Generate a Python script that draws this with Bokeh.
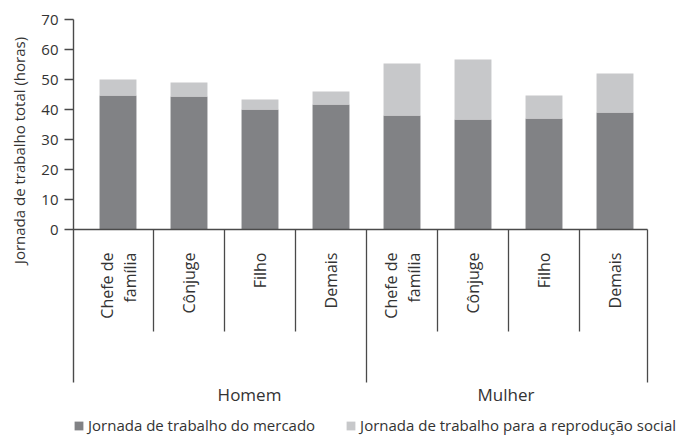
from math import pi
from bokeh.plotting import figure
from bokeh.layouts import row
from bokeh.models import Range1d, FixedTicker, Legend, LegendItem, ColumnDataSource
from bokeh.core.properties import value
from bokeh.embed import file_html
from bokeh.resources import INLINE

# ---------------- data ----------------
categories = ["Chefe de\nfamília", "Cônjuge", "Filho", "Demais",
              "Chefe de\nfamília", "Cônjuge", "Filho", "Demais"]
groups = ["Homem", "Mulher"]
mercado = [44.7, 44.3, 40.0, 41.7, 38.0, 36.7, 37.0, 39.0]
reproducao = [5.3, 4.7, 3.3, 4.3, 17.3, 20.0, 7.7, 13.0]
y_ticks = [0, 10, 20, 30, 40, 50, 60, 70]
series_names = ["Jornada de trabalho do mercado",
                "Jornada de trabalho para a reprodução social"]
y_title = "Jornada de trabalho total (horas)"

# ---------------- layout ----------------
W, H = 690, 435
WT = 32             # width of the strip that holds the y title
LEFT, TOP = 73, 19  # frame left / top on the page
PX_Y = 3.0          # pixels per hour
PX_CAT = 71.0       # pixels per category
FIRST_C = 44.5      # first category centre from frame left
LINE_GAP = 23       # px between the two lines of a category label
FONT = "Open Sans"
DARK, LIGHT = "#818285", "#c7c8ca"
LINE = "#4a4a4a"
TXT = "#333333"

frame_w, frame_h = W - LEFT, H - TOP
y_end = y_ticks[-1]
y_start = y_end - frame_h / PX_Y
x_start = -FIRST_C / PX_CAT
x_end = x_start + frame_w / PX_CAT


def yd(cy):
    return y_end - (cy - TOP) / PX_Y


def xd(cx):
    return (cx - LEFT - FIRST_C) / PX_CAT


# ---------------- y title strip ----------------
t = figure(width=WT, height=H, x_range=Range1d(0, WT), y_range=Range1d(0, H),
           output_backend="svg", toolbar_location=None, x_axis_location=None,
           y_axis_location=None, title=None, min_border=0, outline_line_color=None)
t.grid.visible = False
t.text(x=[18.5], y=[H - 137], text=[y_title], angle=pi / 2, text_align="center",
       text_baseline="middle", text_font=value(FONT), text_font_size="15px", text_color=TXT)

# ---------------- main chart ----------------
n = len(categories)
xs = list(range(n))
src = ColumnDataSource(dict(x=xs, mercado=mercado, reproducao=reproducao))

p = figure(width=W - WT, height=H, x_range=Range1d(x_start, x_end), y_range=Range1d(y_start, y_end),
           output_backend="svg", toolbar_location=None, x_axis_location=None, title=None,
           min_border_left=LEFT - WT, min_border_top=TOP, min_border_right=0, min_border_bottom=0,
           outline_line_color=None)
p.grid.visible = False

rs = p.vbar_stack(["mercado", "reproducao"], x="x", width=0.52, source=src,
                  fill_color=[DARK, LIGHT], line_color=None)

# y axis (its line continues down as the left border of the category table)
long_bottom = yd(382)
short_bottom = yd(331)
ax = p.yaxis[0]
ax.ticker = FixedTicker(ticks=y_ticks)
ax.bounds = (long_bottom, y_end)
ax.major_tick_in = 0
ax.major_tick_out = 9
ax.major_label_standoff = 6
ax.axis_line_color = LINE
ax.axis_line_width = 1.4
ax.major_tick_line_color = LINE
ax.major_tick_line_width = 1.4
ax.major_label_text_font = FONT
ax.major_label_text_font_size = "15px"
ax.major_label_text_color = TXT

# baseline and separators
right_edge = xd(647)
p.segment(x0=[x_start], y0=[0], x1=[right_edge], y1=[0], line_color=LINE, line_width=1.4)
short_x = [0.5, 1.5, 2.5, 4.5, 5.5, 6.5]
p.segment(x0=short_x, y0=[0] * len(short_x), x1=short_x, y1=[short_bottom] * len(short_x),
          line_color=LINE, line_width=1.3)
long_x = [3.5, right_edge]
p.segment(x0=long_x, y0=[0] * 2, x1=long_x, y1=[long_bottom] * 2, line_color=LINE, line_width=1.3)

# category labels (each line drawn separately so lines are top aligned)
lx, lt, lo = [], [], []
for i, c in enumerate(categories):
    parts = c.split("\n")
    k = len(parts)
    for j, s in enumerate(parts):
        lx.append(i)
        lt.append(s)
        lo.append((j - (k - 1) / 2) * LINE_GAP)
lab_src = ColumnDataSource(dict(x=lx, text=lt, off=lo))
p.text(x="x", y=yd(252), text="text", x_offset="off", source=lab_src, angle=pi / 2,
       text_align="right", text_baseline="middle", text_font=value(FONT),
       text_font_size="16px", text_color=TXT)

# group labels
group_x = [xd(249), xd(505.5)]
p.text(x=group_x, y=[yd(394)] * 2, text=groups, text_align="center", text_baseline="middle",
       text_font=value(FONT), text_font_size="17px", text_color=TXT)

legend = Legend(items=[LegendItem(label=series_names[0], renderers=[rs[0]]),
                       LegendItem(label=series_names[1], renderers=[rs[1]])],
                orientation="horizontal", location=(0, 0), padding=0, margin=0, spacing=30,
                label_standoff=4, glyph_width=11, glyph_height=11, label_height=18,
                label_text_font=FONT, label_text_font_size="15px", label_text_color=TXT,
                border_line_color=None, background_fill_alpha=0)
p.add_layout(legend)

layout = row(t, p, spacing=0)
open("out.html", "w").write(file_html(layout, INLINE))
